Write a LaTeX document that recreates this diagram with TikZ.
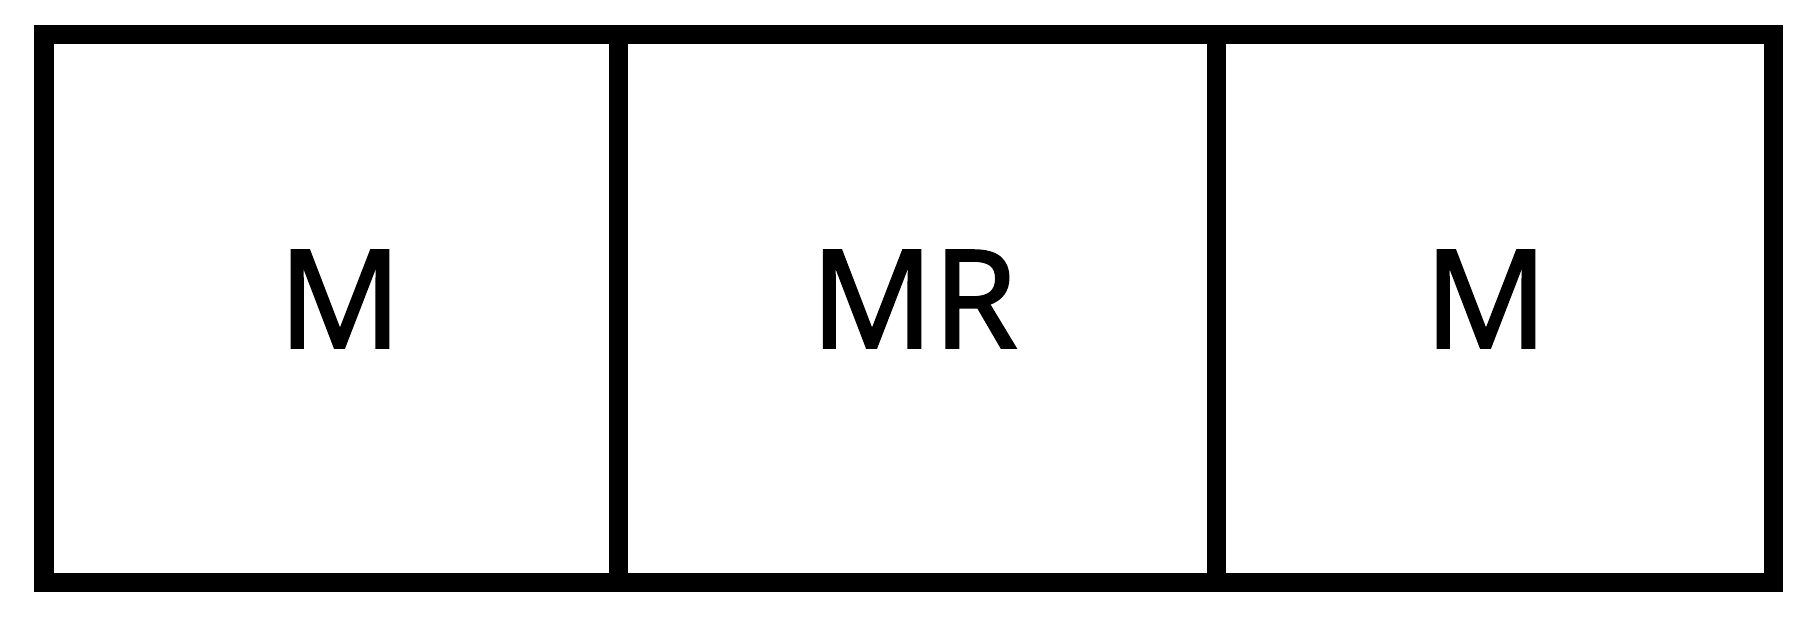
\documentclass[tikz,border=0pt]{standalone}
\usepackage{fontspec}
\setmainfont{Open Sans}
\newfontfamily\tagfont[FakeBold=2]{Open Sans}
\usepackage{tikz}

\tikzset{
  cell/.style={draw=black, line width=0.19cm, minimum height=5.47cm,
    inner sep=0pt},
  tag/.style={inner sep=0pt, font=\fontsize{38.6}{46}\tagfont}
}

\begin{document}
\begin{tikzpicture}
            % Fix the page size
            \useasboundingbox (0,0) rectangle (18.11,6.20);
            
            % Draw the three cells
            \node[cell, minimum width=5.74cm] (leftcell) at (3.31,3.115) {};
            \node[cell, minimum width=5.98cm] (midcell) at (9.17,3.115) {};
            \node[cell, minimum width=5.57cm] (rightcell) at (14.945,3.115) {};
            
            % Cell texts
            \node[tag] (lefttag) at (3.40,3.21) {M};
            \node[tag] (midtag) at (9.14,3.21) {MR};
            \node[tag] (righttag) at (14.86,3.21) {M};
        \end{tikzpicture}
\end{document}
